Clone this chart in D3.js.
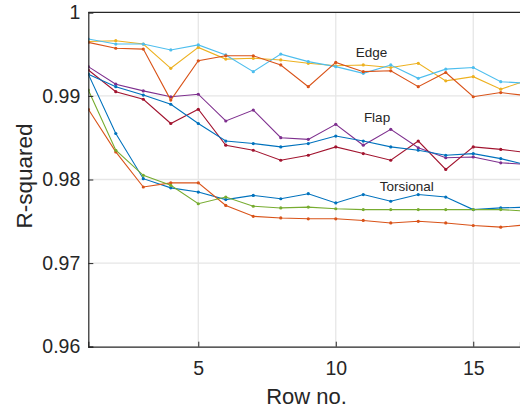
<!DOCTYPE html>
<html><head><meta charset="utf-8">
<script src="https://cdn.jsdelivr.net/npm/d3@7"></script>
<style>body{margin:0;background:#fff}svg{display:block}text{font-family:"Liberation Sans",Arial,sans-serif;fill:#262626}</style>
</head><body><svg id="c" width="520" height="412"></svg>
<script>
const rows = d3.range(1, 18);
const xTicks = [5, 10, 15];
const yTicks = [0.96, 0.97, 0.98, 0.99, 1];
const yTickLabels = ["0.96", "0.97", "0.98", "0.99", "1"];

const torsionalBlue = [0.9926,0.9855,0.9801,0.9790,0.9785,0.9776,0.9781,0.9777,0.9783,0.9772,0.9782,0.9774,0.9782,0.9779,0.9764,0.9766,0.9767];
const torsionalOrange = [0.9884,0.9833,0.9791,0.9796,0.9796,0.9769,0.9756,0.9754,0.9753,0.9753,0.9751,0.9748,0.9750,0.9748,0.9745,0.9743,0.9746];
const edgeYellow = [0.9965,0.9966,0.9962,0.9933,0.9958,0.9944,0.9945,0.9943,0.9939,0.9936,0.9937,0.9934,0.9939,0.9918,0.9923,0.9908,0.9919];
const flapPurple = [0.9935,0.9914,0.9906,0.9899,0.9902,0.9870,0.9883,0.9850,0.9848,0.9866,0.9841,0.9860,0.9838,0.9826,0.9827,0.9820,0.9818];
const torsionalGreen = [0.9907,0.9835,0.9805,0.9793,0.9771,0.9779,0.9768,0.9766,0.9767,0.9765,0.9764,0.9764,0.9764,0.9764,0.9764,0.9764,0.9762];
const edgeLightBlue = [0.9968,0.9962,0.9962,0.9955,0.9961,0.9949,0.9929,0.9950,0.9941,0.9935,0.9927,0.9937,0.9921,0.9932,0.9934,0.9917,0.9915];
const flapDarkRed = [0.9931,0.9905,0.9896,0.9867,0.9884,0.9841,0.9835,0.9823,0.9829,0.9839,0.9831,0.9823,0.9846,0.9812,0.9839,0.9836,0.9832];
const flapBlue = [0.9926,0.9911,0.9901,0.9890,0.9867,0.9846,0.9843,0.9839,0.9843,0.9852,0.9846,0.9839,0.9835,0.9829,0.9831,0.9825,0.9817];
const edgeOrange = [0.9964,0.9957,0.9956,0.9895,0.9942,0.9948,0.9948,0.9937,0.9911,0.9940,0.9929,0.9930,0.9911,0.9928,0.9899,0.9904,0.9900];

const seriesValues = [torsionalBlue, torsionalOrange, edgeYellow, flapPurple, torsionalGreen, edgeLightBlue, flapDarkRed, flapBlue, edgeOrange];
const seriesColors = ["#0072BD","#D95319","#EDB120","#7E2F8E","#77AC30","#4DBEEE","#A2142F","#0072BD","#D95319"];
const groupLabels = ["Edge", "Flap", "Torsional"];
const groupLabelPos = [[11.3, 0.99465], [11.5, 0.98690], [12.58, 0.97860]];

const svg = d3.select("#c");
const L = 88.3, R = 520, T = 12.3, B = 346.7;
const x = d3.scaleLinear().domain([1, 16.7]).range([L, R]);
const y = d3.scaleLinear().domain([0.96, 1]).range([B, T]);

svg.append("defs").append("clipPath").attr("id","clip")
  .append("rect").attr("x", L).attr("y", T).attr("width", R - L).attr("height", B - T);

// grid
const grid = svg.append("g");
grid.selectAll("line.gx").data(xTicks).enter().append("line")
  .attr("x1", d => x(d)).attr("x2", d => x(d)).attr("y1", T).attr("y2", B)
  .attr("stroke", "#e6e6e6").attr("stroke-width", 1.3);
grid.selectAll("line.gy").data(yTicks.slice(1, -1)).enter().append("line")
  .attr("y1", d => y(d)).attr("y2", d => y(d)).attr("x1", L).attr("x2", R)
  .attr("stroke", "#e6e6e6").attr("stroke-width", 1.3);

// series
const plot = svg.append("g").attr("clip-path", "url(#clip)");
const line = d3.line().x((d, i) => x(rows[i])).y(d => y(d));
seriesValues.forEach((vals, k) => {
  plot.append("path").attr("d", line(vals)).attr("fill", "none")
    .attr("stroke", seriesColors[k]).attr("stroke-width", 1.1);
  plot.selectAll(null).data(vals).enter().append("circle")
    .attr("cx", (d, i) => x(rows[i])).attr("cy", d => y(d)).attr("r", 1.6)
    .attr("fill", seriesColors[k]);
});

// axes
const axC = "#262626";
const xAxis = d3.axisBottom(x).tickValues(xTicks).tickSize(-5).tickPadding(14).tickFormat(d3.format("d"));
const gx = svg.append("g").attr("transform", `translate(0,${B})`).call(xAxis);
gx.select(".domain").attr("stroke", axC).attr("stroke-width", 1.2);
gx.selectAll(".tick line").attr("stroke", axC);
gx.selectAll(".tick text").attr("font-size", 19.5).style("fill", axC).attr("font-family", "Liberation Sans, Arial, sans-serif");

const yAxis = d3.axisLeft(y).tickValues(yTicks).tickSize(-5).tickPadding(8).tickFormat((d, i) => yTickLabels[i]);
const gy = svg.append("g").attr("transform", `translate(${L},0)`).call(yAxis);
gy.select(".domain").attr("stroke", axC).attr("stroke-width", 1.2);
gy.selectAll(".tick line").attr("stroke", axC);
gy.selectAll(".tick text").attr("font-size", 19.5).style("fill", axC).attr("font-family", "Liberation Sans, Arial, sans-serif");

// top border
svg.append("line").attr("x1", L).attr("x2", R).attr("y1", T).attr("y2", T)
  .attr("stroke", axC).attr("stroke-width", 1.2);

// group labels
svg.selectAll("text.grp").data(groupLabels).enter().append("text")
  .attr("x", (d, i) => x(groupLabelPos[i][0])).attr("y", (d, i) => y(groupLabelPos[i][1]))
  .attr("text-anchor", "middle").attr("font-size", 13.5).text(d => d);

// axis titles
svg.append("text").attr("x", 306.5).attr("y", 404).attr("text-anchor", "middle")
  .attr("font-size", 22).text("Row no.");
svg.append("text").attr("transform", "translate(32,176) rotate(-90)").attr("text-anchor", "middle")
  .attr("font-size", 22.5).text("R-squared");
</script></body></html>
